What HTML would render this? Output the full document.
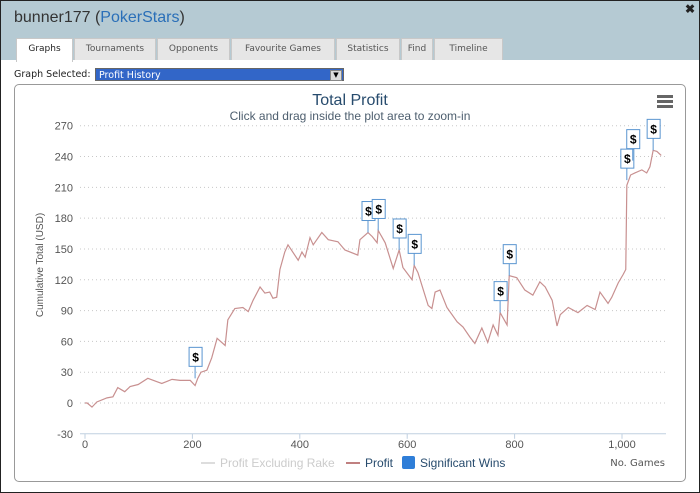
<!DOCTYPE html>
<html><head><meta charset="utf-8">
<style>
body{margin:0;width:700px;height:493px;overflow:hidden;font-family:"Liberation Sans",sans-serif;background:#fff}
#win{position:absolute;left:0;top:0;width:698px;height:491px;border:1px solid #222;background:#fff}
#hdr{position:absolute;left:0;top:0;width:698px;height:59px;background:#b5cad3}
#ttl{position:absolute;left:13px;top:8px;font-size:16px;color:#333}
#ttl span{color:#2a6fb8}
#close{position:absolute;right:4px;top:1px;font-size:12px;font-weight:bold;color:#222}
.tab{position:absolute;top:37px;height:21px;background:#e6e6e6;border:1px solid #c8c8c8;border-bottom:none;font-family:"DejaVu Sans",sans-serif;font-size:9px;color:#555;text-align:center;line-height:21px}
.tab.on{background:#fff;height:23px;color:#222}
#gs{position:absolute;left:13px;top:68px;font-family:"DejaVu Sans",sans-serif;font-size:9.5px;color:#222}
#sel{position:absolute;left:94px;top:67px;width:249px;height:13px;background:#3266c8;border:1px solid #666;color:#fff;font-family:"DejaVu Sans",sans-serif;font-size:9.5px;line-height:13px;padding-left:3px;box-sizing:border-box}
#selb{position:absolute;right:1px;top:1px;width:10px;height:9px;background:#ddd;border:1px solid #888;color:#000;font-size:7px;line-height:9px;text-align:center}
#panel{position:absolute;left:13px;top:83px;width:670px;height:396px;border:1px solid #999;border-radius:5px}
</style></head><body>
<div id="win">
<div id="hdr">
<div id="ttl">bunner177 (<span>PokerStars</span>)</div>
<div id="close">✖</div>
<div class="tab on" style="left:15px;width:55px">Graphs</div>
<div class="tab" style="left:73px;width:80px">Tournaments</div>
<div class="tab" style="left:156px;width:71px">Opponents</div>
<div class="tab" style="left:230px;width:102px">Favourite Games</div>
<div class="tab" style="left:335px;width:62px">Statistics</div>
<div class="tab" style="left:400px;width:30px">Find</div>
<div class="tab" style="left:433px;width:67px">Timeline</div>
</div>
<div id="gs">Graph Selected:</div>
<div id="sel">Profit History<div id="selb">▼</div></div>
<div id="panel"></div>
</div>
<svg id="chart" width="700" height="493" style="position:absolute;left:0;top:0"></svg>
<script>
const games=[0,4,13,22,41,52,61,74,84,99,117,143,162,177,196,205,210,216,227,236,246,261,266,279,294,304,313,326,335,344,350,357,363,372,378,397,404,410,419,425,441,453,471,484,508,512,527,535,544,546,559,574,585,592,609,613,620,639,646,652,661,674,693,704,717,726,739,750,760,769,773,786,790,804,819,834,847,857,870,879,885,900,918,935,950,959,974,981,993,1002,1007,1009,1016,1024,1037,1046,1052,1058,1065,1073];
const profit=[0,0,-4,1,5,6,15,11,16,18,24,19,23,22,22,17,24,30,32,44,63,56,81,92,93,89,100,113,107,108,102,103,130,147,154,139,147,142,161,154,166,159,157,149,144,159,166,162,156,168,156,131,149,132,120,134,127,95,92,108,110,93,79,74,64,58,73,59,76,66,88,76,124,122,110,105,118,113,100,75,86,93,88,95,91,108,97,103,117,125,130,212,222,224,227,224,230,246,245,241];
const winGames=[205,527,546,585,613,773,790,1009,1020,1058];
const winValues=[24,166,168,149,134,88,124,217,236,246];
const yTicks=[-30,0,30,60,90,120,150,180,210,240,270];
const xTicks=[0,200,400,600,800,1000];
const xTickLabels=["0","200","400","600","800","1,000"];
const NS="http://www.w3.org/2000/svg";
const svg=document.getElementById('chart');
const X=g=>85+g*0.537;
const Y=v=>403-v*1.027;
function mk(t,a,txt){const e=document.createElementNS(NS,t);for(const k in a)e.setAttribute(k,a[k]);if(txt!=null)e.textContent=txt;svg.appendChild(e);return e;}
let e;
e=mk('text',{x:350,y:105,'text-anchor':'middle','font-size':16,fill:'#274b6d','font-family':'Liberation Sans, sans-serif'},'Total Profit');


e=mk('text',{x:350,y:120,'text-anchor':'middle','font-size':12,fill:'#4d5e6e','font-family':'Liberation Sans, sans-serif'},'Click and drag inside the plot area to zoom-in');


e=mk('g',{});


for(let i=0;i<3;i++){const r=document.createElementNS(NS,'rect');r.setAttribute('x',657);r.setAttribute('y',95+i*5);r.setAttribute('width',16);r.setAttribute('height',3);r.setAttribute('fill','#666');e.appendChild(r);}
yTicks.forEach(v=>{
 if(v!==-30){e=mk('line',{x1:80,x2:666,y1:Y(v),y2:Y(v),stroke:'#c8c8c8','stroke-dasharray':'1,3'});
 
 }
 e=mk('text',{x:73,y:Y(v)+4,'text-anchor':'end','font-size':11,fill:'#555','font-family':'Liberation Sans, sans-serif'},String(v));
 
 
});
e=mk('line',{x1:80,x2:666,y1:Y(-30),y2:Y(-30),stroke:'#c0d0e0'});


xTicks.forEach((g,i)=>{
 e=mk('line',{x1:X(g),x2:X(g),y1:Y(-30),y2:Y(-30)+5,stroke:'#c0d0e0'});
 
 
 e=mk('text',{x:X(g),y:Y(-30)+14,'text-anchor':'middle','font-size':11,fill:'#555','font-family':'Liberation Sans, sans-serif'},xTickLabels[i]);
 
 
});
e=mk('text',{x:43,y:265,'text-anchor':'middle','font-size':10,fill:'#555',transform:'rotate(-90 43 265)','font-family':'Liberation Sans, sans-serif'},'Cumulative Total (USD)');


e=mk('text',{x:665,y:466,'text-anchor':'end','font-size':10,fill:'#555','font-family':'DejaVu Sans, sans-serif'},'No. Games');


e=mk('polyline',{points:games.map((g,i)=>X(g)+','+Y(profit[i])).join(' '),fill:'none',stroke:'#c89090','stroke-width':1.2});


winGames.forEach((g,i)=>{
 const px=X(g),py=Y(winValues[i]);
 e=mk('g',{});
 
 
 const s=document.createElementNS(NS,'line');s.setAttribute('x1',px);s.setAttribute('x2',px);s.setAttribute('y1',py);s.setAttribute('y2',py-12);s.setAttribute('stroke','#5a95d0');e.appendChild(s);
 const r=document.createElementNS(NS,'rect');r.setAttribute('x',px-6);r.setAttribute('y',py-31);r.setAttribute('width',13);r.setAttribute('height',19);r.setAttribute('fill','#fff');r.setAttribute('stroke','#5a95d0');e.appendChild(r);
 const t=document.createElementNS(NS,'text');t.setAttribute('x',px+0.5);t.setAttribute('y',py-17);t.setAttribute('text-anchor','middle');t.setAttribute('font-size',12);t.setAttribute('font-weight','bold');t.setAttribute('font-family','Liberation Sans, sans-serif');t.textContent='$';e.appendChild(t);
});
e=mk('line',{x1:201,x2:215,y1:463,y2:463,stroke:'#ddd','stroke-width':2});


e=mk('text',{x:220,y:467,'font-size':12,fill:'#ccc','font-family':'Liberation Sans, sans-serif'},'Profit Excluding Rake');


e=mk('line',{x1:346,x2:360,y1:463,y2:463,stroke:'#c08080','stroke-width':2});


e=mk('text',{x:365,y:467,'font-size':12,fill:'#274b6d','font-family':'Liberation Sans, sans-serif'},'Profit');


e=mk('rect',{x:402,y:456,width:13,height:13,rx:2,fill:'#2f7ed8'});


e=mk('text',{x:420,y:467,'font-size':12,fill:'#274b6d','font-family':'Liberation Sans, sans-serif'},'Significant Wins');


</script>
</body></html>
